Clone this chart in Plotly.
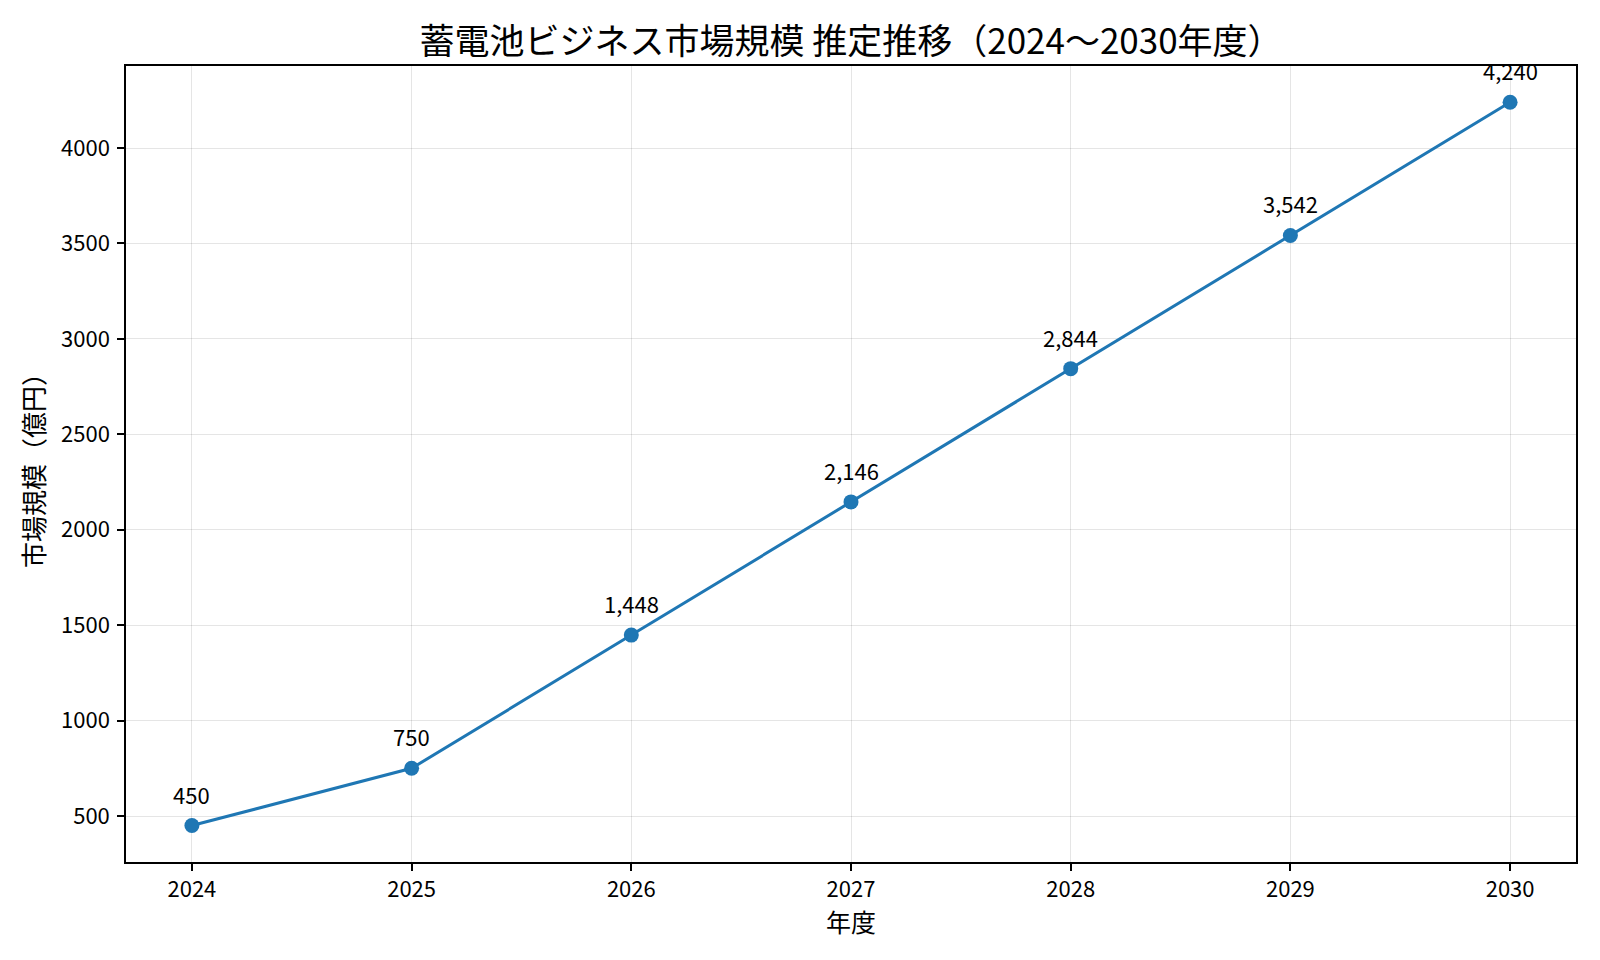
import plotly.graph_objects as go

# ========== データ ==========
YEARS = [2024, 2025, 2026, 2027, 2028, 2029, 2030]
MARKET_SIZE = [450, 750, 1448, 2146, 2844, 3542, 4240]  # 億円

TITLE = "蓄電池ビジネス市場規模 推定推移（2024〜2030年度）"
X_LABEL = "年度"
Y_LABEL = "市場規模（億円）"

FONT = "Noto Sans CJK JP"
LINE_COLOR = "#1f77b4"

# ページの body には 8px の余白があるため、図は 1584x944 程度になる
FIG_W, FIG_H = 1584, 944

fig = go.Figure()
fig.add_trace(go.Scatter(
    x=YEARS, y=MARKET_SIZE,
    mode="lines+markers",
    line=dict(color=LINE_COLOR, width=3),
    marker=dict(color=LINE_COLOR, size=15),
    showlegend=False,
))

# 各点の値ラベル（カンマ区切り）
for x, y in zip(YEARS, MARKET_SIZE):
    fig.add_annotation(
        x=x, y=y, text=f"{y:,}", showarrow=False,
        yshift=32, font=dict(family=FONT, size=22, color="black"),
    )

axis_common = dict(
    showline=True, linecolor="black", linewidth=1.5, mirror=True,
    ticks="outside", ticklen=7, tickcolor="black", tickwidth=1.5,
    showgrid=True, gridcolor="rgba(0,0,0,0.1)", gridwidth=1,
    zeroline=False,
    tickfont=dict(family=FONT, size=22, color="black"),
)

fig.update_layout(
    template="plotly_white",
    plot_bgcolor="white", paper_bgcolor="white",
    margin=dict(l=118, r=16, t=58, b=90),
    title=dict(text=TITLE, x=843 / FIG_W, xanchor="center",
               y=1 - 34 / FIG_H, yanchor="middle",
               yref="container", font=dict(family=FONT, size=35, color="black")),
    xaxis=dict(
        axis_common, range=[2023.7, 2030.3], tickmode="array", tickvals=YEARS,
        ticktext=[str(y) for y in YEARS],
        title=dict(text=X_LABEL, font=dict(family=FONT, size=25, color="black"), standoff=7),
    ),
    yaxis=dict(
        axis_common, range=[259, 4430], dtick=500, tick0=0, ticklabelstandoff=3,
        title=dict(text=Y_LABEL, font=dict(family=FONT, size=26, color="black"), standoff=9),
    ),
)

fig.write_html("out.html")
